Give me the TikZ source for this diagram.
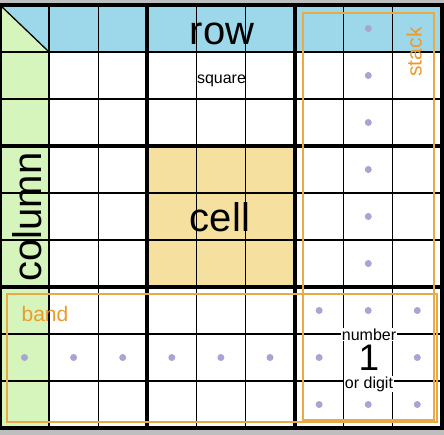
\documentclass[tikz,border=0pt]{standalone}
\usepackage{fontspec}
\setmainfont{Liberation Sans}
\definecolor{rowblue}{HTML}{9DD8EA}
\definecolor{colgreen}{HTML}{D5F5BC}
\definecolor{boxyellow}{HTML}{F5E09F}
\definecolor{orng}{HTML}{EE9A2A}
\definecolor{orline}{HTML}{E9A944}
\definecolor{dotc}{HTML}{A7A5D4}
\definecolor{bggrey}{HTML}{BEBEBE}
\begin{document}
\begin{tikzpicture}[x=1pt,y=-1pt,
  thinln/.style={line width=1.3pt,black},
  thickln/.style={line width=4pt,black},
  orect/.style={draw=orline,line width=1.1pt},
  dotmark/.style={circle,fill=dotc,inner sep=0pt,minimum size=7pt},
  bigtxt/.style={font=\fontsize{40}{40}\selectfont,inner sep=0pt,anchor=base},
  smalltxt/.style={font=\fontsize{16}{16}\selectfont,inner sep=0pt,anchor=base},
  orangetxt/.style={font=\fontsize{21}{21}\selectfont,text=orng,inner sep=0pt,anchor=base}]
\useasboundingbox (0,0) rectangle (444,435);
\fill[bggrey] (0,0) rectangle (444,435);
\fill[white] (0,5) rectangle (442,428);
% fills
\fill[rowblue] (0,5) rectangle (442,52);
\fill[colgreen] (0,52) rectangle (49.1,428);
\fill[colgreen] (0,5) -- (49.1,52) -- (0,52) -- cycle;
\fill[boxyellow] (147.3,146) rectangle (294.6,287);
% grid lines
\foreach \i in {1,2,4,5,7,8} {
  \draw[thinln] ({49.1*\i},5) -- ({49.1*\i},428);
  \draw[thinln] (0,{5+47*\i}) -- (442,{5+47*\i});
}
\draw[thinln] (0,5) -- (49.1,52);
\foreach \i in {3,6} {
  \draw[thickln] ({49.1*\i},5) -- ({49.1*\i},428);
  \draw[thickln] (0,{5+47*\i}) -- (442,{5+47*\i});
}
\draw[thickln] (0,5) rectangle (442,428);
% orange rectangles
\draw[orect] (303,13) rectangle (434,420);
\draw[orect] (7,294) rectangle (437,422);
% dots
\foreach \r [count=\k] in {0,1,2,3,4,5} {
  \node[dotmark] (s\k) at (368.3,{28.5+47*\r}) {};
}
\foreach \c [count=\k] in {0,1,2,3,4,5} {
  \node[dotmark] (b\k) at ({24.5+49.1*\c},357.5) {};
}
\foreach \c/\r [count=\k] in {6/6,7/6,8/6,6/7,8/7,6/8,7/8,8/8} {
  \node[dotmark] (n\k) at ({24.5+49.1*\c},{28.5+47*\r}) {};
}
% texts
\node[bigtxt] (row) at (222,45) {row};
\node[smalltxt] (square) at (221.5,84) {square};
\node[bigtxt] (cell) at (220,231.7) {cell};
\node[bigtxt,rotate=90] (column) at (41.5,217) {column};
\node[orangetxt,rotate=90] (stack) at (421.5,52) {stack};
\node[orangetxt] (band) at (45,321.5) {band};
\node[smalltxt,fill=white,inner xsep=1pt,inner ysep=0.5pt] (number) at (369,340.5) {number};
\node[bigtxt,font=\fontsize{37}{37}\selectfont] (one) at (369,370.5) {1};
\node[smalltxt,fill=white,inner xsep=1pt,inner ysep=0.5pt] (digit) at (369,388.5) {or digit};
\end{tikzpicture}
\end{document}
